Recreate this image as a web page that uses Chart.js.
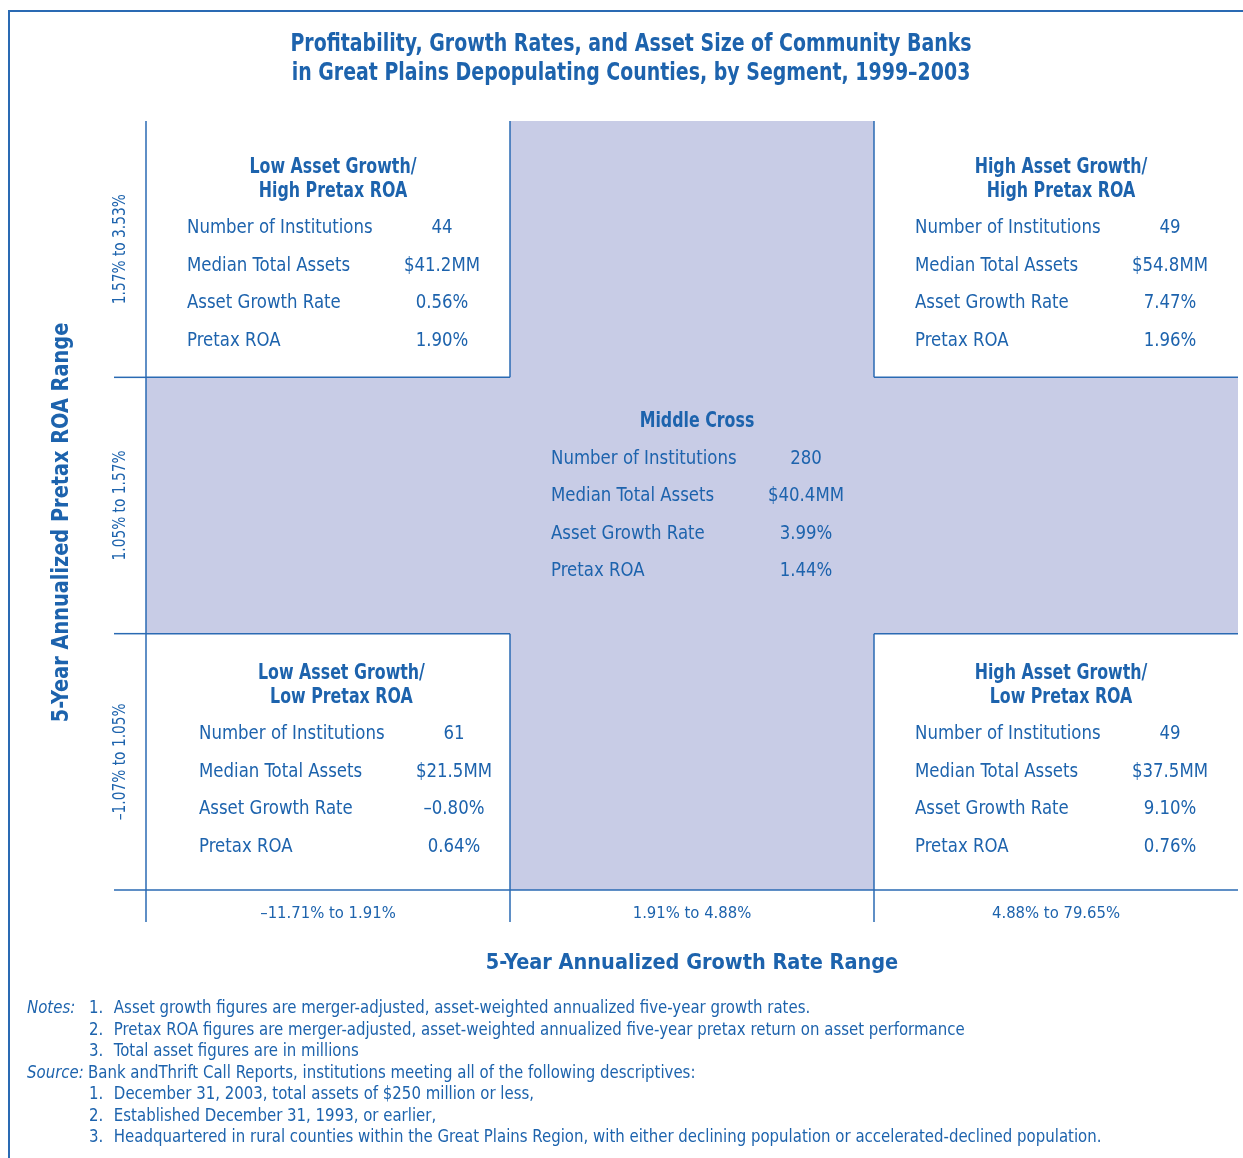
<!DOCTYPE html>
<html>
<head>
<meta charset="utf-8">
<title>Community Banks in Great Plains Depopulating Counties</title>
<script src="https://cdn.jsdelivr.net/npm/chart.js@4.4.1/dist/chart.umd.min.js"></script>
<style>
  html, body { margin: 0; padding: 0; background: #fff; }
  body { width: 1243px; height: 1158px; position: relative; overflow: hidden; }
  #frame { position: absolute; left: 8px; top: 10px; right: 0; bottom: 0;
           border-left: 2px solid #2a6ab3; border-top: 2px solid #2a6ab3; }
  #chart-box { position: absolute; left: 0; top: 0; width: 1243px; height: 1158px; }
  #notes { position: absolute; left: 27px; top: 996px; color: #1d63ad;
           font-family: "Liberation Sans Narrow", "DejaVu Sans Condensed", sans-serif;
           font-size: 18px; line-height: 21.5px; white-space: nowrap;
           transform: scaleX(0.924); transform-origin: 0 0; }
  #notes .lab { display: inline-block; width: 67px; font-style: italic; }
  #notes .lab.src { width: 66px; }
  #notes .num { display: inline-block; width: 27px; }
</style>
</head>
<body>
<div id="frame"></div>
<div id="chart-box"><canvas id="bank-chart"></canvas></div>
<div id="notes">
  <div><span class="lab">Notes:</span><span class="num">1.</span>Asset growth figures are merger-adjusted, asset-weighted annualized five-year growth rates.</div>
  <div><span class="lab"></span><span class="num">2.</span>Pretax ROA figures are merger-adjusted, asset-weighted annualized five-year pretax return on asset performance</div>
  <div><span class="lab"></span><span class="num">3.</span>Total asset figures are in millions</div>
  <div><span class="lab src">Source:</span>Bank andThrift Call Reports, institutions meeting all of the following descriptives:</div>
  <div><span class="lab"></span><span class="num">1.</span>December 31, 2003, total assets of $250 million or less,</div>
  <div><span class="lab"></span><span class="num">2.</span>Established December 31, 1993, or earlier,</div>
  <div><span class="lab"></span><span class="num">3.</span>Headquartered in rural counties within the Great Plains Region, with either declining population or accelerated-declined population.</div>
</div>
<script>
// ---- Data ----
const chartTitle = ["Profitability, Growth Rates, and Asset Size of Community Banks",
                    "in Great Plains Depopulating Counties, by Segment, 1999\u20132003"];
const growthRanges = ["\u201311.71% to 1.91%", "1.91% to 4.88%", "4.88% to 79.65%"];
const roaRanges = ["\u20131.07% to 1.05%", "1.05% to 1.57%", "1.57% to 3.53%"]; // bottom band first
const crossCol = 1; // middle growth band
const crossRow = 1; // middle ROA band

const segmentNames = [
  ["Low Asset Growth/", "High Pretax ROA"],
  ["High Asset Growth/", "High Pretax ROA"],
  ["Middle Cross"],
  ["Low Asset Growth/", "Low Pretax ROA"],
  ["High Asset Growth/", "Low Pretax ROA"]
];
const segmentCol = [0, 2, 1, 0, 2];
const segmentRow = [2, 2, 1, 0, 0];
const institutions = [44, 49, 280, 61, 49];
const medianAssets = [41.2, 54.8, 40.4, 21.5, 37.5]; // $ millions
const assetGrowth = [0.56, 7.47, 3.99, -0.80, 9.10]; // %
const pretaxROA = [1.90, 1.96, 1.44, 0.64, 0.76];    // %
const metricLabels = ["Number of Institutions", "Median Total Assets", "Asset Growth Rate", "Pretax ROA"];

// ---- Style ----
const BLUE = "#1d63ad";
const LINE = "#2a6ab3";
const SHADE = "#c8cce6";
const FONT = '"Liberation Sans Narrow", "DejaVu Sans Condensed", sans-serif';
// small shifts of each text block inside its cell [dx, dy]
const textNudge = [[0, 5], [0, 5], [0, -9], [12, -2], [0, -2]];

function fmtPct(v) {
  return (v < 0 ? "\u2013" : "") + Math.abs(v).toFixed(2) + "%";
}

// text squeezed horizontally to mimic the condensed face of the original
function drawText(ctx, text, x, y, align, font, sx, rot) {
  ctx.save();
  ctx.translate(x, y);
  if (rot) ctx.rotate(rot);
  ctx.scale(sx, 1);
  ctx.font = font;
  ctx.textAlign = align;
  ctx.textBaseline = "middle";
  ctx.fillText(text, 0, 0);
  ctx.restore();
}

// ------------------- Cross panels plugin -------------------
const crossPanels = {
  id: "crossPanels",
  beforeDatasetsDraw(chart) {
    const { ctx, scales: { x, y } } = chart;
    const X = v => x.getPixelForValue(v);
    const Y = v => y.getPixelForValue(v);
    const tick = 32;
    ctx.save();

    // shaded cross
    ctx.fillStyle = SHADE;
    ctx.fillRect(X(crossCol), Y(3), X(crossCol + 1) - X(crossCol), Y(0) - Y(3));
    ctx.fillRect(X(0), Y(crossRow + 1), X(3) - X(0), Y(crossRow) - Y(crossRow + 1));

    // axes and ticks
    ctx.strokeStyle = LINE;
    ctx.lineWidth = 1.5;
    const seg = (x1, y1, x2, y2) => { ctx.beginPath(); ctx.moveTo(x1, y1); ctx.lineTo(x2, y2); ctx.stroke(); };
    seg(X(0), Y(3), X(0), Y(0) + tick);
    seg(X(0) - tick, Y(0), X(3), Y(0));
    for (let i = 1; i < 3; i++) {
      seg(X(i), Y(0), X(i), Y(0) + tick);
      seg(X(0) - tick, Y(i), X(0), Y(i));
    }

    // edges of the white corner panels that face the cross
    segmentCol.forEach((c, i) => {
      const r = segmentRow[i];
      if (c === crossCol || r === crossRow) return;
      const ex = c < crossCol ? c + 1 : c;
      const ey = r < crossRow ? r + 1 : r;
      seg(X(ex), Y(r + 1), X(ex), Y(r));
      seg(X(c), Y(ey), X(c + 1), Y(ey));
    });

    // title
    ctx.fillStyle = BLUE;
    chartTitle.forEach((t, k) => drawText(ctx, t, 631, 45 + k * 29, "center", "bold 24px " + FONT, 0.878));

    // ROA range labels and axis title (rotated)
    roaRanges.forEach((lab, i) => {
      drawText(ctx, lab, X(0) - 26, Y(i + 0.5), "center", "18px " + FONT, 0.85, -Math.PI / 2);
    });
    drawText(ctx, "5-Year Annualized Pretax ROA Range", X(0) - 84, (Y(0) + Y(3)) / 2 + 17,
             "center", "bold 23px " + FONT, 0.934, -Math.PI / 2);

    ctx.restore();
  },
  afterDatasetsDraw(chart) {
    const { ctx } = chart;
    const meta = chart.getDatasetMeta(0);
    const headGap = 24, headToRows = 37, rowGap = 37.5;
    ctx.save();
    ctx.fillStyle = BLUE;
    meta.data.forEach((pt, i) => {
      const [dx, dy] = textNudge[i];
      const names = segmentNames[i];
      const values = [
        String(institutions[i]),
        "$" + medianAssets[i].toFixed(1) + "MM",
        fmtPct(assetGrowth[i]),
        fmtPct(pretaxROA[i])
      ];
      const span = (names.length - 1) * headGap + headToRows + 3 * rowGap;
      const top = pt.y + dy - span / 2;
      names.forEach((n, k) => drawText(ctx, n, pt.x + 5 + dx * 0.7, top + k * headGap, "center", "bold 22px " + FONT, 0.8));
      const rowTop = top + (names.length - 1) * headGap + headToRows;
      metricLabels.forEach((lab, k) => {
        drawText(ctx, lab, pt.x - 141 + dx, rowTop + k * rowGap, "left", "19px " + FONT, 0.97);
        drawText(ctx, values[k], pt.x + 114 + dx, rowTop + k * rowGap, "center", "19px " + FONT, 0.97);
      });
    });
    ctx.restore();
  }
};

// ------------------- Chart -------------------
new Chart(document.getElementById("bank-chart"), {
  type: "scatter",
  data: {
    datasets: [{
      label: "Segments",
      data: segmentCol.map((c, i) => ({ x: c + 0.5, y: segmentRow[i] + 0.5 })),
      pointRadius: 0,
      pointHoverRadius: 0
    }]
  },
  options: {
    responsive: true,
    maintainAspectRatio: false,
    animation: false,
    events: [],
    layout: { padding: { top: 121, left: 24, right: 5, bottom: 168 } },
    plugins: {
      legend: { display: false },
      tooltip: { enabled: false },
      title: { display: false }
    },
    scales: {
      x: {
        type: "linear", min: 0, max: 3, position: "bottom",
        grid: { display: false, drawTicks: false },
        border: { display: false },
        afterBuildTicks: s => { s.ticks = growthRanges.map((_, i) => ({ value: i + 0.5 })); },
        afterFit: s => { s.height = 100; },
        ticks: {
          color: BLUE, font: { family: FONT, size: 16.5 }, padding: 14,
          maxRotation: 0, autoSkip: false,
          callback: (v, i) => growthRanges[i]
        },
        title: {
          display: true, text: "5-Year Annualized Growth Rate Range", color: BLUE,
          font: { family: FONT, size: 21.5, weight: "bold" }, padding: { top: 10, bottom: 14 }
        }
      },
      y: {
        type: "linear", min: 0, max: 3,
        grid: { display: false, drawTicks: false },
        border: { display: false },
        ticks: { display: false },
        afterFit: s => { s.width = 122; }
      }
    }
  },
  plugins: [crossPanels]
});
</script>
</body>
</html>
